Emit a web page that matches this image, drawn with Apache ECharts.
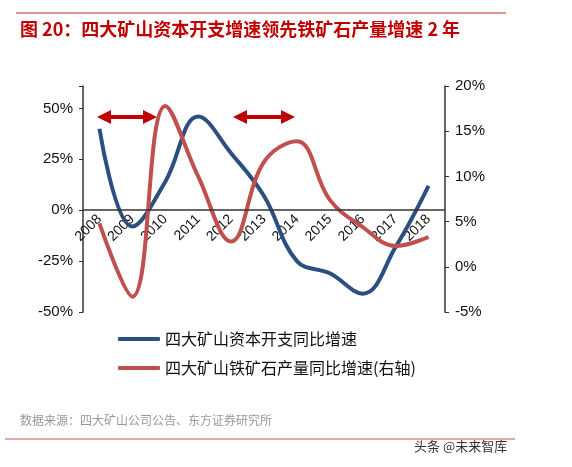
<!DOCTYPE html>
<html>
<head>
<meta charset="utf-8">
<script src="https://cdn.jsdelivr.net/npm/echarts@6/dist/echarts.min.js"></script>
<style>
  html, body { margin: 0; padding: 0; background: #fff; }
  #chart { width: 572px; height: 467px; }
</style>
</head>
<body>
<div id="chart"></div>
<script>
// 数据
let years = ['2008', '2009', '2010', '2011', '2012', '2013', '2014', '2015', '2016', '2017', '2018']
let capexGrowth = [40, -8, 14, 46, 28, 7, -25, -31, -41, -18, 12]
let oreGrowth = [4.8, -3.3, 17.8, 10.0, 2.8, 11.6, 13.9, 7.4, 4.4, 2.3, 3.3]
let leftTicks = [-50, -25, 0, 25, 50]
let rightTicks = [-5, 0, 5, 10, 15, 20]

let font = 'Liberation Sans, Arial, "Noto Sans CJK SC", sans-serif'
let cjk = '"Noto Sans CJK SC", sans-serif'

let chart = echarts.init(document.getElementById('chart'))

// 双向箭头
function arrow(x1, x2, y) {
  return [{
    type: 'line',
    shape: { x1: x1 + 10, y1: y, x2: x2 - 10, y2: y },
    style: { stroke: '#c00000', lineWidth: 4 }
  }, {
    type: 'polygon',
    shape: { points: [[x1, y], [x1 + 14, y - 7], [x1 + 14, y + 7]] },
    style: { fill: '#c00000' }
  }, {
    type: 'polygon',
    shape: { points: [[x2, y], [x2 - 14, y - 7], [x2 - 14, y + 7]] },
    style: { fill: '#c00000' }
  }]
}

chart.setOption({
  animation: false,
  grid: { left: 83, right: 127, top: 86, bottom: 155, containLabel: false },
  legend: {
    orient: 'vertical',
    left: 113,
    top: 326,
    icon: 'roundRect',
    itemWidth: 42,
    itemHeight: 4,
    itemGap: 13,
    textStyle: { fontFamily: cjk, fontSize: 16, color: '#111' },
    data: ['四大矿山资本开支同比增速', '四大矿山铁矿石产量同比增速(右轴)']
  },
  xAxis: {
    type: 'category',
    data: years,
    axisLine: { show: false },
    axisTick: { show: false },
    // 标签贴在 0% 线下方
    axisLabel: { rotate: 45, fontFamily: font, fontSize: 14, color: '#111', margin: -95 }
  },
  yAxis: [{
    type: 'value',
    min: -50,
    max: 61,
    interval: 25,
    splitLine: { show: false },
    axisLine: { show: true, lineStyle: { color: '#333', width: 1.5 } },
    axisTick: { show: true, inside: false, length: 4, lineStyle: { color: '#333' } },
    axisLabel: {
      fontFamily: font, fontSize: 15, color: '#111', margin: 10,
      formatter: function (v) { return leftTicks.indexOf(v) >= 0 ? v + '%' : '' }
    }
  }, {
    type: 'value',
    min: -5,
    max: 20,
    interval: 5,
    splitLine: { show: false },
    axisLine: { show: true, lineStyle: { color: '#333', width: 1.5 } },
    axisTick: { show: true, length: 4, lineStyle: { color: '#333' } },
    axisLabel: {
      fontFamily: font, fontSize: 15, color: '#111', margin: 10,
      formatter: function (v) { return rightTicks.indexOf(v) >= 0 ? v + '%' : '' }
    }
  }],
  series: [{
    name: '四大矿山资本开支同比增速',
    type: 'line',
    smooth: 0.4,
    symbol: 'none',
    yAxisIndex: 0,
    data: capexGrowth,
    color: '#2b4f81',
    lineStyle: { width: 4, color: '#2b4f81' },
    markLine: {
      silent: true,
      symbol: 'none',
      label: { show: false },
      lineStyle: { color: '#333', width: 1.5, type: 'solid' },
      data: [{ yAxis: 0 }]
    },
    z: 3
  }, {
    name: '四大矿山铁矿石产量同比增速(右轴)',
    type: 'line',
    smooth: 0.4,
    symbol: 'none',
    yAxisIndex: 1,
    data: oreGrowth,
    color: '#c0504d',
    lineStyle: { width: 4, color: '#c0504d' },
    z: 3
  }],
  graphic: [{
    type: 'line',
    shape: { x1: 16, y1: 13, x2: 506, y2: 13 },
    style: { stroke: '#d87070', lineWidth: 1.5 }
  }, {
    type: 'text',
    left: 20,
    top: 20,
    style: { text: '图 20：四大矿山资本开支增速领先铁矿石产量增速 2 年', fill: '#c00000', font: 'bold 18px "Noto Sans CJK SC", sans-serif' }
  }, {
    type: 'text',
    left: 20,
    top: 414,
    style: { text: '数据来源：四大矿山公司公告、东方证券研究所', fill: '#999', font: '12px "Noto Sans CJK SC", sans-serif' }
  }, {
    type: 'line',
    shape: { x1: 5, y1: 439, x2: 515, y2: 439 },
    style: { stroke: '#c0504d', lineWidth: 1 }
  }, {
    type: 'text',
    left: 414,
    top: 440,
    style: { text: '头条 @未来智库', fill: '#333', font: '13px "Noto Sans CJK SC", sans-serif' }
  }].concat(arrow(97, 157, 117), arrow(233, 295, 117))
})
</script>
</body>
</html>
